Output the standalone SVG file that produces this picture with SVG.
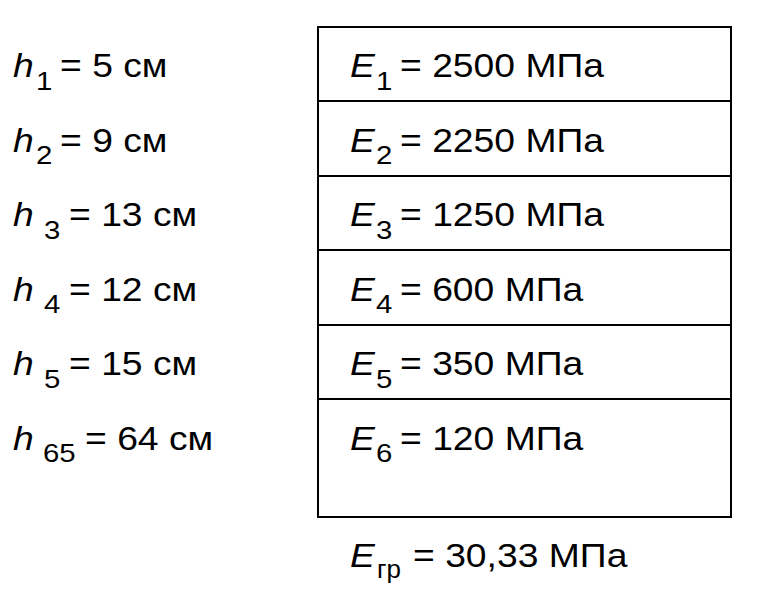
<svg xmlns="http://www.w3.org/2000/svg" width="757" height="600" viewBox="0 0 757 600">
<style>
text{font-family:"Liberation Sans",Arial,sans-serif;font-size:33px;fill:#000}
.i{font-style:italic}
.s{font-size:26px}
.ln{stroke:#000;stroke-width:2;fill:none}
</style>
<rect width="757" height="600" fill="#fff"/>
<g id="table">
<rect class="ln" x="318" y="27" width="413" height="490"/>
<line class="ln" x1="318" y1="101" x2="731" y2="101"/>
<line class="ln" x1="318" y1="176" x2="731" y2="176"/>
<line class="ln" x1="318" y1="250" x2="731" y2="250"/>
<line class="ln" x1="318" y1="325" x2="731" y2="325"/>
<line class="ln" x1="318" y1="399" x2="731" y2="399"/>
</g>
<g id="h1">
<text class="i" transform="translate(13 77) scale(1.13 1)">h</text>
<text class="s" transform="translate(36 89.5) scale(1.13 1)">1</text>
<text transform="translate(60 77) scale(1.13 1)">= 5 см</text>
</g>
<g id="h2">
<text class="i" transform="translate(13 151.5) scale(1.13 1)">h</text>
<text class="s" transform="translate(36 164) scale(1.13 1)">2</text>
<text transform="translate(60 151.5) scale(1.13 1)">= 9 см</text>
</g>
<g id="h3">
<text class="i" transform="translate(13 226) scale(1.13 1)">h</text>
<text class="s" transform="translate(44 238.5) scale(1.13 1)">3</text>
<text transform="translate(69 226) scale(1.13 1)">= 13 см</text>
</g>
<g id="h4">
<text class="i" transform="translate(13 300.5) scale(1.13 1)">h</text>
<text class="s" transform="translate(44 313) scale(1.13 1)">4</text>
<text transform="translate(69 300.5) scale(1.13 1)">= 12 см</text>
</g>
<g id="h5">
<text class="i" transform="translate(13 375) scale(1.13 1)">h</text>
<text class="s" transform="translate(44 387.5) scale(1.13 1)">5</text>
<text transform="translate(69 375) scale(1.13 1)">= 15 см</text>
</g>
<g id="h6">
<text class="i" transform="translate(13 449.5) scale(1.13 1)">h</text>
<text class="s" transform="translate(43 462) scale(1.13 1)">65</text>
<text transform="translate(85 449.5) scale(1.13 1)">= 64 см</text>
</g>
<g id="E1">
<text class="i" transform="translate(350 77) scale(1.13 1)">E</text>
<text class="s" transform="translate(376 89.5) scale(1.13 1)">1</text>
<text transform="translate(400 77) scale(1.13 1)">= 2500 МПа</text>
</g>
<g id="E2">
<text class="i" transform="translate(350 151.5) scale(1.13 1)">E</text>
<text class="s" transform="translate(376 164) scale(1.13 1)">2</text>
<text transform="translate(400 151.5) scale(1.13 1)">= 2250 МПа</text>
</g>
<g id="E3">
<text class="i" transform="translate(350 226) scale(1.13 1)">E</text>
<text class="s" transform="translate(376 238.5) scale(1.13 1)">3</text>
<text transform="translate(400 226) scale(1.13 1)">= 1250 МПа</text>
</g>
<g id="E4">
<text class="i" transform="translate(350 300.5) scale(1.13 1)">E</text>
<text class="s" transform="translate(376 313) scale(1.13 1)">4</text>
<text transform="translate(400 300.5) scale(1.13 1)">= 600 МПа</text>
</g>
<g id="E5">
<text class="i" transform="translate(350 375) scale(1.13 1)">E</text>
<text class="s" transform="translate(376 387.5) scale(1.13 1)">5</text>
<text transform="translate(400 375) scale(1.13 1)">= 350 МПа</text>
</g>
<g id="E6">
<text class="i" transform="translate(350 449.5) scale(1.13 1)">E</text>
<text class="s" transform="translate(376 462) scale(1.13 1)">6</text>
<text transform="translate(400 449.5) scale(1.13 1)">= 120 МПа</text>
</g>
<g id="Egr">
<text class="i" transform="translate(350 567) scale(1.13 1)">E</text>
<text class="s" transform="translate(377 578) scale(1.0 1)">гр</text>
<text transform="translate(413 567) scale(1.13 1)">= 30,33 МПа</text>
</g>
</svg>
